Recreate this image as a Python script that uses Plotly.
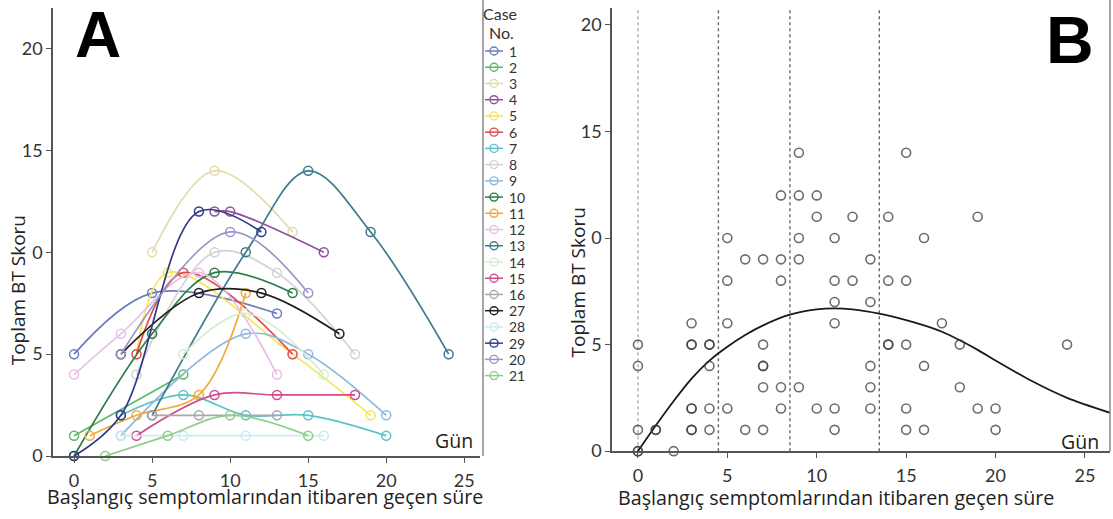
import plotly.graph_objects as go

W, H = 1113, 519

# ---------------- data ----------------
case_labels = ["1", "2", "3", "4", "5", "6", "7", "8", "9", "10", "11",
               "12", "13", "14", "15", "16", "27", "28", "29", "20", "21"]
case_colors = ["#6b7bbd", "#5fb86a", "#e3dcaa", "#8f4f9e", "#f5e55a", "#e5484d",
               "#5bc2c8", "#d3d3d3", "#8fb9de", "#2f7a48", "#f2a93b", "#e9bfe6",
               "#3d7a8e", "#d6ecd2", "#d04c8f", "#a8a8a8", "#1e1e1e", "#c9ecf0",
               "#2f3c84", "#9c95c9", "#8fcf8a"]
case_days = [
    [0, 5, 13],
    [0, 7],
    [5, 9, 14],
    [9, 10, 16],
    [4, 6, 14, 19],
    [4, 7, 14],
    [3, 7, 11, 15, 20],
    [4, 9, 13, 18],
    [3, 11, 15, 20],
    [0, 5, 9, 14],
    [1, 4, 8, 11],
    [0, 3, 8, 13],
    [5, 11, 15, 19, 24],
    [7, 11, 16],
    [4, 9, 13, 18],
    [5, 8, 13],
    [3, 8, 12, 17],
    [3, 7, 11, 16],
    [0, 3, 8, 12],
    [3, 10, 15],
    [2, 6, 10, 15],
]
case_scores = [
    [5, 8, 7],
    [1, 4],
    [10, 14, 11],
    [12, 12, 10],
    [5, 9, 5, 2],
    [5, 9, 5],
    [2, 3, 2, 2, 1],
    [4, 10, 9, 5],
    [1, 6, 5, 2],
    [0, 6, 9, 8],
    [1, 2, 3, 8],
    [4, 6, 9, 4],
    [2, 10, 14, 11, 5],
    [5, 7, 4],
    [1, 3, 3, 3],
    [2, 2, 2],
    [5, 8, 8, 6],
    [1, 1, 1, 1],
    [0, 2, 12, 11],
    [5, 11, 8],
    [0, 1, 2, 1],
]

b_days = [9, 15,
          8, 9, 10,
          10, 12, 14, 19,
          5, 9, 11, 16,
          6, 7, 8, 9, 13,
          5, 8, 11, 12, 14, 15,
          11, 13,
          3, 5, 11, 17,
          0, 3, 3, 4, 4, 7, 14, 14, 15, 18, 24,
          0, 4, 7, 7, 13, 16,
          7, 8, 9, 13, 18,
          3, 3, 4, 5, 8, 10, 11, 13, 15, 19, 20,
          0, 1, 1, 3, 3, 4, 6, 7, 11, 15, 16, 20,
          0, 0, 2]
b_scores = [14, 14,
            12, 12, 12,
            11, 11, 11, 11,
            10, 10, 10, 10,
            9, 9, 9, 9, 9,
            8, 8, 8, 8, 8, 8,
            7, 7,
            6, 6, 6, 6,
            5, 5, 5, 5, 5, 5, 5, 5, 5, 5, 5,
            4, 4, 4, 4, 4, 4,
            3, 3, 3, 3, 3,
            2, 2, 2, 2, 2, 2, 2, 2, 2, 2, 2,
            1, 1, 1, 1, 1, 1, 1, 1, 1, 1, 1, 1,
            0, 0, 0]

fit_days = [0, 1, 2, 3, 4, 5, 6, 7, 8.5, 10, 11, 12, 13.5, 15, 16, 17, 18, 19, 20, 22, 24, 26.4]
fit_scores = [0, 1.2, 2.35, 3.4, 4.25, 4.9, 5.45, 5.9, 6.4, 6.65, 6.7, 6.65, 6.45, 6.15,
              5.9, 5.6, 5.2, 4.75, 4.25, 3.3, 2.5, 1.8]

cut_days = [0, 4.5, 8.5, 13.5]

y_tickvals = [0, 5, 10, 15, 20]
y_ticktext = ["0", "5", "0", "15", "20"]
x_tickvals = [0, 5, 10, 15, 20, 25]

x_title = "Başlangıç semptomlarından itibaren geçen süre"
y_title = "Toplam BT Skoru"

# ---------------- helpers (page pixels -> paper fractions) ----------------
def px(v):
    return v / W

def py(v):
    return 1 - v / H

TICK_FONT = dict(family="Lato, Open Sans, sans-serif", size=18, color="#333")
TITLE_FONT = dict(family="Open Sans, sans-serif", size=19.7, color="#222")
YTITLE_FONT = dict(family="Open Sans, sans-serif", size=19, color="#222")
GUN_FONT = dict(family="Open Sans, sans-serif", size=19.5, color="#222")
AX_COL = "#555"

fig = go.Figure()

# ---------------- panel A ----------------
for lab, col, xs, ys in zip(case_labels, case_colors, case_days, case_scores):
    fig.add_trace(go.Scatter(
        x=xs, y=ys, mode="lines+markers", name=lab,
        line=dict(color=col, width=1.7, shape="spline", smoothing=1.0),
        marker=dict(symbol="circle-open", size=9, color=col, line=dict(width=1.5)),
        xaxis="x", yaxis="y", cliponaxis=False, showlegend=False))

# ---------------- panel B ----------------
fig.add_trace(go.Scatter(
    x=fit_days, y=fit_scores, mode="lines",
    line=dict(color="#1a1a1a", width=1.8, shape="spline", smoothing=0.8),
    xaxis="x2", yaxis="y2", showlegend=False))
fig.add_trace(go.Scatter(
    x=b_days, y=b_scores, mode="markers",
    marker=dict(symbol="circle-open", size=9, color="rgba(60,60,60,0.75)", line=dict(width=1.6)),
    xaxis="x2", yaxis="y2", cliponaxis=False, showlegend=False))

shapes = []
for i, d in enumerate(cut_days):
    shapes.append(dict(type="line", xref="x2", yref="y2 domain", x0=d, x1=d, y0=0, y1=1,
                       line=dict(color="#aaa" if i == 0 else "#666", width=1.4, dash="dot"),
                       layer="below"))
# right-hand borders
shapes.append(dict(type="line", xref="paper", yref="paper", x0=px(483), x1=px(483),
                   y0=py(465), y1=1, line=dict(color="#888", width=1.5)))
shapes.append(dict(type="line", xref="paper", yref="paper", x0=px(1110), x1=px(1110),
                   y0=py(460), y1=1, line=dict(color="#888", width=1.5)))

# ---------------- manual legend (axis 3, 1 unit = 1 page px) ----------------
row0, row_step = 52, 16.55
annotations = []
for i, (lab, col) in enumerate(zip(case_labels, case_colors)):
    r = row0 + i * row_step
    fig.add_trace(go.Scatter(
        x=[485, 494, 503], y=[r, r, r], mode="lines+markers",
        line=dict(color=col, width=1.5),
        marker=dict(symbol="circle-open", size=8, color=col, line=dict(width=1.4),
                    opacity=[0, 1, 0]),
        xaxis="x3", yaxis="y3", showlegend=False, hoverinfo="skip"))
    annotations.append(dict(x=507, y=r, xref="x3", yref="y3", text=lab, showarrow=False,
                            xanchor="left", yanchor="middle",
                            font=dict(family="Lato, sans-serif", size=14, color="#333")))
annotations.append(dict(x=500, y=14, xref="x3", yref="y3", text="Case", showarrow=False,
                        xanchor="center", yanchor="middle",
                        font=dict(family="Lato, sans-serif", size=16, color="#333")))
annotations.append(dict(x=501, y=33, xref="x3", yref="y3", text="No.", showarrow=False,
                        xanchor="center", yanchor="middle",
                        font=dict(family="Lato, sans-serif", size=16, color="#333")))

# ---------------- text annotations ----------------
annotations += [
    dict(x=px(98), y=py(36), xref="paper", yref="paper", text="<b>A</b>", showarrow=False,
         xanchor="center", yanchor="middle",
         font=dict(family="Liberation Sans, Arial, sans-serif", size=64, color="#000")),
    dict(x=px(1070), y=py(41), xref="paper", yref="paper", text="<b>B</b>", showarrow=False,
         xanchor="center", yanchor="middle",
         font=dict(family="Liberation Sans, Arial, sans-serif", size=66, color="#000")),
    dict(x=px(454), y=py(449), xref="paper", yref="paper", text="Gün", showarrow=False,
         xanchor="center", yanchor="middle", font=GUN_FONT),
    dict(x=px(1080), y=py(450), xref="paper", yref="paper", text="Gün", showarrow=False,
         xanchor="center", yanchor="middle", font=GUN_FONT),
    dict(x=px(265), y=py(506), xref="paper", yref="paper", text=x_title, showarrow=False,
         xanchor="center", yanchor="middle", font=TITLE_FONT),
    dict(x=px(836), y=py(507), xref="paper", yref="paper", text=x_title, showarrow=False,
         xanchor="center", yanchor="middle", font=TITLE_FONT),
    dict(x=px(18), y=py(296), xref="paper", yref="paper", text=y_title, showarrow=False,
         textangle=-90, xanchor="center", yanchor="middle", font=YTITLE_FONT),
    dict(x=px(578), y=py(288), xref="paper", yref="paper", text=y_title, showarrow=False,
         textangle=-90, xanchor="center", yanchor="middle", font=YTITLE_FONT),
]

common_ax = dict(showline=True, linecolor=AX_COL, linewidth=1.5, ticks="outside",
                 ticklen=5, tickwidth=1.3, tickcolor=AX_COL, showgrid=False,
                 zeroline=False, tickfont=TICK_FONT)

fig.update_layout(
    width=W, height=H, margin=dict(l=0, r=0, t=0, b=0),
    paper_bgcolor="white", plot_bgcolor="white",
    showlegend=False,
    xaxis=dict(domain=[px(53), px(483)], range=[-1.35, 26.2], anchor="y",
               tickvals=x_tickvals, ticklabelstandoff=3, **common_ax),
    yaxis=dict(domain=[py(465), py(8)], range=[0, 22.0], anchor="x",
               tickvals=y_tickvals, ticktext=y_ticktext, **common_ax),
    xaxis2=dict(domain=[px(612), px(1110)], range=[-1.45, 26.4], anchor="y2",
                tickvals=x_tickvals, ticklabelstandoff=3, **common_ax),
    yaxis2=dict(domain=[py(460), py(8)], range=[0, 20.8], anchor="x2",
                tickvals=y_tickvals, ticktext=y_ticktext, **common_ax),
    xaxis3=dict(domain=[px(480), px(545)], range=[480, 545], visible=False, anchor="y3"),
    yaxis3=dict(domain=[0, 1], range=[H, 0], visible=False, anchor="x3"),
    shapes=shapes,
    annotations=annotations,
)

# remove the browser's default 8px body margin so the figure sits at the page origin
fig.write_html("out.html",
               config={"displayModeBar": False},
               post_script="document.body.style.margin='0';document.body.style.overflow='hidden';")
